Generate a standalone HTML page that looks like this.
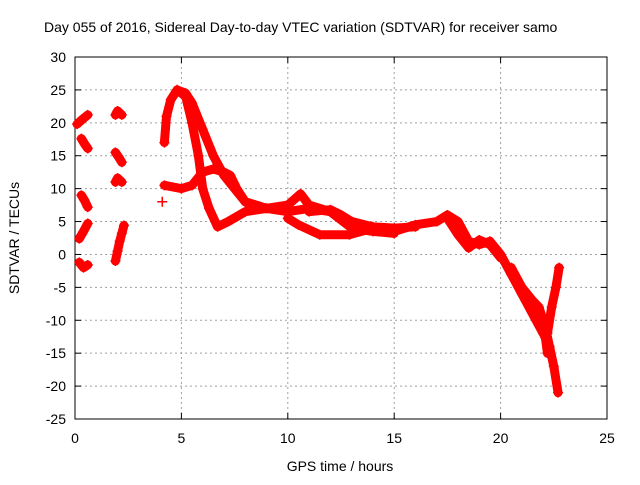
<!DOCTYPE html>
<html><head><meta charset="utf-8"><style>
body{margin:0;background:#fff;}
svg text{font-family:"Liberation Sans",sans-serif;font-size:14px;fill:#000;}
</style></head><body>
<svg id="chart" width="640" height="480" viewBox="0 0 640 480" xmlns="http://www.w3.org/2000/svg">
<rect width="640" height="480" fill="#fff"/>
<text x="44" y="32">Day 055 of 2016, Sidereal Day-to-day VTEC variation (SDTVAR) for receiver samo</text>
<g id="grid"></g>
<g id="axes"></g>
<g id="marks"></g>
<text x="340" y="471" text-anchor="middle">GPS time / hours</text>
<text transform="translate(19,238) rotate(-90)" text-anchor="middle">SDTVAR / TECUs</text>
</svg>
<script>
const xTicks=[0,5,10,15,20,25];
const yTicks=[30,25,20,15,10,5,0,-5,-10,-15,-20,-25];
// traces: times (hours) and values (TECU)
const t1=[0.1,0.3,0.6]; const v1=[19.8,20.4,21.2];
const t2=[0.3,0.45,0.6]; const v2=[17.6,16.8,16.1];
const t3=[0.3,0.45,0.6]; const v3=[9,8.2,7.2];
const t4=[0.2,0.4,0.6]; const v4=[2.4,3.5,4.7];
const t5=[0.2,0.4,0.6]; const v5=[-1.2,-2,-1.6];
const t6=[1.9,2.0,2.2]; const v6=[21.2,21.8,21.2];
const t7=[1.9,2.05,2.2]; const v7=[15.5,14.8,14];
const t8=[1.9,2.0,2.2]; const v8=[11.0,11.6,11.0];
const t9=[1.9,2.0,2.1,2.2,2.3]; const v9=[-1,0.5,2,3.2,4.4];
const t10=[4.2,4.3,4.5,4.8,5.2,5.5,6,6.5,7,7.5,8,9,10,11,12,13,14,15,16,17,17.5,18,18.5,19,19.5,20,20.5,21,21.5,22,22.3];
const v10=[17,21,23.5,25,24.5,23,19,15,12,10,8,7,6.5,7,6.5,5,4,3.5,4.5,5,6,5,2,1.5,2,0,-3,-6,-9,-12,-14];
const t11=[4.2,5,5.5,6,6.5,7,7.3,7.6,8,9];
const v11=[10.5,10,10.5,12.5,13,12.5,12,10,8,7];
const t12=[4.8,5.2,5.5,5.8,6,6.3,6.7,7.2,8,9,10,10.6,11,12,13,14,15];
const v12=[25,24,20,15,10,7,4.2,5,6.5,7,7.5,9.2,7.5,6.5,4,3.5,3.2];
const t13=[10,10.5,11.5,12.9,14];
const v13=[5.5,4.5,3,3,4];
const t18=[11,12,12.5,13,14,15,16];
const v18=[6.5,6.8,6,5,4.2,4,4.2];
const t19=[17.5,18,18.5,19,19.5,20];
const v19=[5.5,3,1,2.2,1.5,-0.5];
const t14=[20.5,21,21.5,21.8,22,22.2];
const v14=[-2,-5,-7,-8,-10,-15];
const t15=[22.1,22.3,22.5,22.7];
const v15=[-11,-14,-17,-21];
const t16=[22.2,22.4,22.6,22.75];
const v16=[-12,-8,-5,-2];
const t17=[4.1]; const v17=[8];
const traceTimes=[t1,t2,t3,t4,t5,t6,t7,t8,t9,t10,t11,t12,t13,t18,t19,t14,t15,t16,t17];
const traceValues=[v1,v2,v3,v4,v5,v6,v7,v8,v9,v10,v11,v12,v13,v18,v19,v14,v15,v16,v17];

const X0=75,X1=607,Y0=419,Y1=57;
function xs(t){return X0+(t-0)/(25-0)*(X1-X0);}
function ys(v){return Y0-(v+25)/(55)*(Y0-Y1);}
const NS="http://www.w3.org/2000/svg";
const grid=document.getElementById('grid'),axes=document.getElementById('axes'),marks=document.getElementById('marks');
function mk(tag,attrs,parent){const e=document.createElementNS(NS,tag);for(const k in attrs)e.setAttribute(k,attrs[k]);parent.appendChild(e);return e;}
xTicks.forEach(t=>{
  const x=xs(t);
  if(t>0&&t<25){const g=mk('line',{x1:x,y1:Y0,x2:x,y2:Y1,stroke:'#a0a0a0','stroke-dasharray':'2,3'},grid);
  
  }
  mk('line',{x1:x,y1:Y0,x2:x,y2:Y0-6,stroke:'#000'},axes);
  mk('line',{x1:x,y1:Y1,x2:x,y2:Y1+6,stroke:'#000'},axes);
  const l=mk('text',{x:x,y:Y0+24,'text-anchor':'middle'},axes);l.textContent=t;
  
  
});
yTicks.forEach(v=>{
  const y=ys(v);
  if(v>-25&&v<30){const g=mk('line',{x1:X0,y1:y,x2:X1,y2:y,stroke:'#a0a0a0','stroke-dasharray':'2,3'},grid);
  
  }
  mk('line',{x1:X0,y1:y,x2:X0+6,y2:y,stroke:'#000'},axes);
  mk('line',{x1:X1,y1:y,x2:X1-6,y2:y,stroke:'#000'},axes);
  const l=mk('text',{x:X0-9,y:y+5,'text-anchor':'end'},axes);l.textContent=v;
  
  
});
mk('rect',{x:X0,y:Y1,width:X1-X0,height:Y0-Y1,fill:'none',stroke:'#000'},axes);
traceTimes.forEach((ts,i)=>{
  const vs=traceValues[i];
  const pts=ts.map((t,j)=>xs(t)+','+ys(vs[j])).join(' ');
  if(ts.length>1){const p=mk('polyline',{points:pts,fill:'none',stroke:'#ff0000','stroke-width':9,'stroke-linejoin':'round','stroke-linecap':'round'},marks);
  
  }
  ts.forEach((t,j)=>{
    const x=xs(t),y=ys(vs[j]);
    const c=mk('path',{d:`M${x-5},${y}H${x+5}M${x},${y-5}V${y+5}`,stroke:'#ff0000','stroke-width':1.5},marks);
    
    
  });
});
</script>
</body></html>
